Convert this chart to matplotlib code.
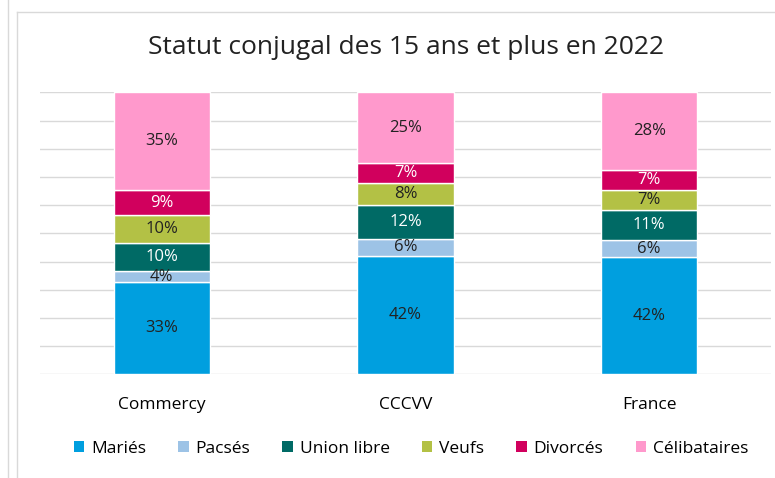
import matplotlib.pyplot as plt
import numpy as np
from matplotlib.lines import Line2D
from matplotlib.patches import Patch

# ------------------------------------------------------------------
# Data
# ------------------------------------------------------------------
territoires = ["Commercy", "CCCVV", "France"]
statuts = ["Mariés", "Pacsés", "Union libre", "Veufs", "Divorcés", "Célibataires"]

maries = [33, 42, 42]
pacses = [4, 6, 6]
union_libre = [10, 12, 11]
veufs = [10, 8, 7]
divorces = [9, 7, 7]
celibataires = [35, 25, 28]

couleurs = ["#009FDF", "#9DC3E6", "#006A65", "#B3C145", "#D1005D", "#FF99CC"]
couleurs_texte = ["#222222", "#222222", "white", "#222222", "white", "#222222"]

plt.rcParams["font.family"] = ["Open Sans", "DejaVu Sans"]

series = np.array([maries, pacses, union_libre, veufs, divorces, celibataires], dtype=float)
# 100% stacked, like the Excel chart
parts = series / series.sum(axis=0) * 100

# ------------------------------------------------------------------
# Figure
# ------------------------------------------------------------------
fig = plt.figure(figsize=(7.75, 4.78), dpi=100)
ax = fig.add_axes([40 / 775, 1 - 374.3 / 478, 731 / 775, 282 / 478])

x = np.arange(len(territoires))
bottom = np.zeros(len(territoires))
for i, nom in enumerate(statuts):
    ax.bar(x, parts[i], 0.394, bottom=bottom, color=couleurs[i],
           edgecolor="white", linewidth=1, label=nom, zorder=3)
    for j in range(len(territoires)):
        ax.text(x[j], bottom[j] + parts[i][j] / 2, f"{int(series[i][j])}%",
                ha="center", va="center", fontsize=12,
                color=couleurs_texte[i], zorder=4)
    bottom += parts[i]

ax.set_xlim(-0.5, 2.5)
ax.set_ylim(0, 100)
ax.set_yticks(np.arange(0, 101, 10))
ax.set_yticklabels([])
ax.yaxis.grid(True, color="#D9D9D9", linewidth=1, zorder=0)
ax.tick_params(length=0)
ax.set_xticks(x)
ax.set_xticklabels(territoires, fontsize=12.5)
ax.tick_params(axis="x", pad=16)
for s in ax.spines.values():
    s.set_visible(False)

fig.text(406 / 775, 1 - 47 / 478, "Statut conjugal des 15 ans et plus en 2022",
         ha="center", va="center", fontsize=19, color="#222222")

handles = [Patch(facecolor=c, edgecolor="none") for c in couleurs]
fig.legend(handles, statuts, loc="center", bbox_to_anchor=(411 / 775, 1 - 449 / 478),
           ncol=6, frameon=False, fontsize=12.5, handlelength=0.6, handleheight=0.6,
           handletextpad=0.4, columnspacing=1.85)

# frame lines of the screenshot
gris = "#D9D9D9"
fig.add_artist(Line2D([7.5 / 775, 7.5 / 775], [0, 1], color=gris, linewidth=1))
fig.add_artist(Line2D([17 / 775, 17 / 775], [0, 1 - 11.5 / 478], color=gris, linewidth=1))
fig.add_artist(Line2D([17 / 775, 1], [1 - 11.5 / 478, 1 - 11.5 / 478], color=gris, linewidth=1))

plt.savefig("out.png", dpi=100)
plt.close()
